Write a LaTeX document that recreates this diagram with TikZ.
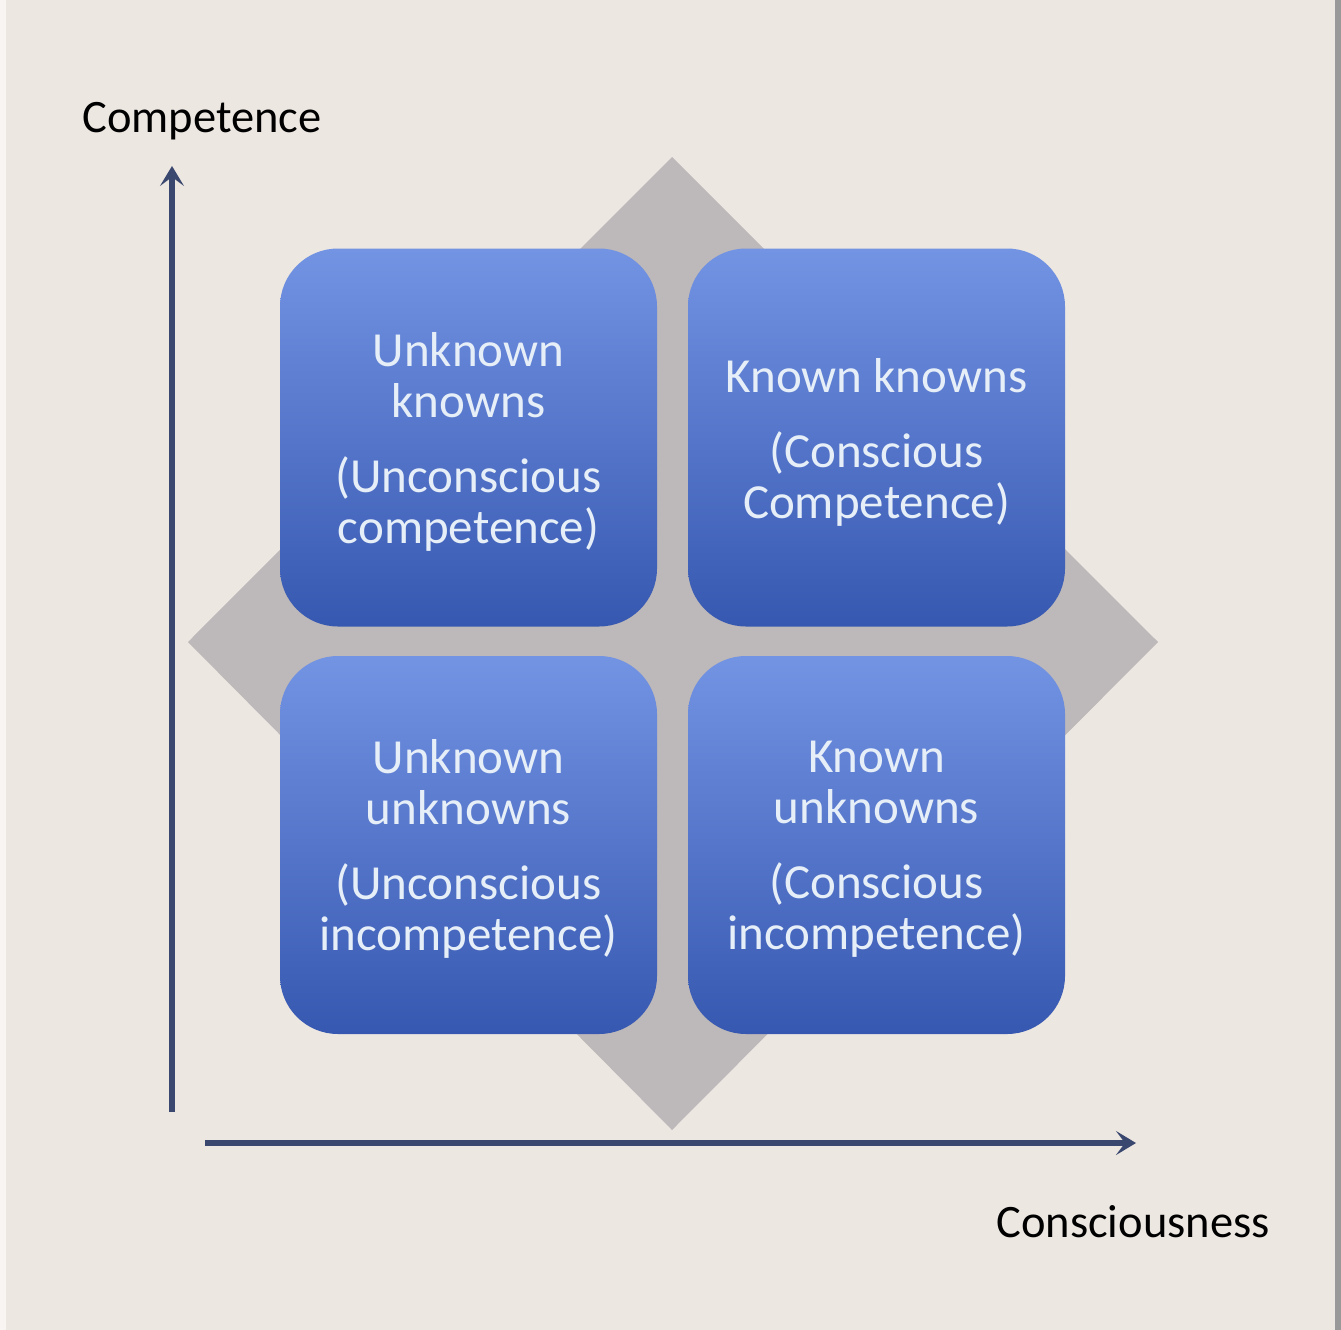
\documentclass[tikz,border=0pt]{standalone}
\usepackage{fontspec}
\setmainfont{Carlito}
\usetikzlibrary{arrows.meta}
\definecolor{bg}{HTML}{EDE7E1}
\definecolor{diam}{HTML}{BDB8B9}
\definecolor{boxtop}{HTML}{7393E3}
\definecolor{boxbot}{HTML}{3658B0}
\definecolor{axis}{HTML}{3A4870}
\definecolor{boxtext}{HTML}{E6EEF8}
\tikzset{
  quad/.style={rounded corners=58pt, minimum width=377pt, minimum height=378pt,
    top color=boxtop, bottom color=boxbot, draw=none, inner sep=0pt,
    align=center, text=boxtext,
    font=\fontsize{49}{51}\selectfont},
  qtext/.style={align=center, text=boxtext, inner sep=0pt,
    font=\fontsize{49}{51}\selectfont},
  axisline/.style={draw=axis, line width=5.5pt, -{Stealth[length=20pt,width=24pt,inset=9pt]}},
  axlabel/.style={font=\fontsize{46.5}{50}\selectfont, text=black, inner sep=0pt}
}
\begin{document}
\begin{tikzpicture}[x=1pt,y=-1pt]
\useasboundingbox (0,0) rectangle (1341,1330);
\fill[bg] (0,0) rectangle (1341,1330);
\fill[white!60!bg] (0,0) rectangle (6,1330);
\fill[black!40] (1335,0) rectangle (1341,1330);
% diamond
\fill[diam] (672,157) -- (1158,642) -- (672,1130) -- (188,642) -- cycle;
% boxes
\node[quad] (tl) at (468.5,437.5) {};
\node[quad] (tr) at (876.5,437.5) {};
\node[quad] (bl) at (468.5,845) {};
\node[quad] (br) at (876.5,845) {};
\node[qtext] (tlt) at ([yshift=-4pt]tl.center) {Unknown\\knowns\\[24pt](Unconscious\\competence)};
\node[qtext] (trt) at ([yshift=-5pt]tr.center) {Known knowns\\[24pt](Conscious\\Competence)};
\node[qtext] (blt) at ([yshift=-4pt]bl.center) {Unknown\\unknowns\\[24pt](Unconscious\\incompetence)};
\node[qtext] (brt) at ([yshift=-4pt]br.center) {Known\\unknowns\\[24pt](Conscious\\incompetence)};
% axes
\coordinate (yo) at (172,1112);
\coordinate (yt) at (172,166);
\coordinate (xo) at (205,1143);
\coordinate (xt) at (1136,1143);
\draw[axisline] (yo) -- (yt);
\draw[axisline] (xo) -- (xt);
\node[axlabel] (ylab) at (202,121) {Competence};
\node[axlabel] (xlab) at (1133,1222) {Consciousness};
\end{tikzpicture}
\end{document}
